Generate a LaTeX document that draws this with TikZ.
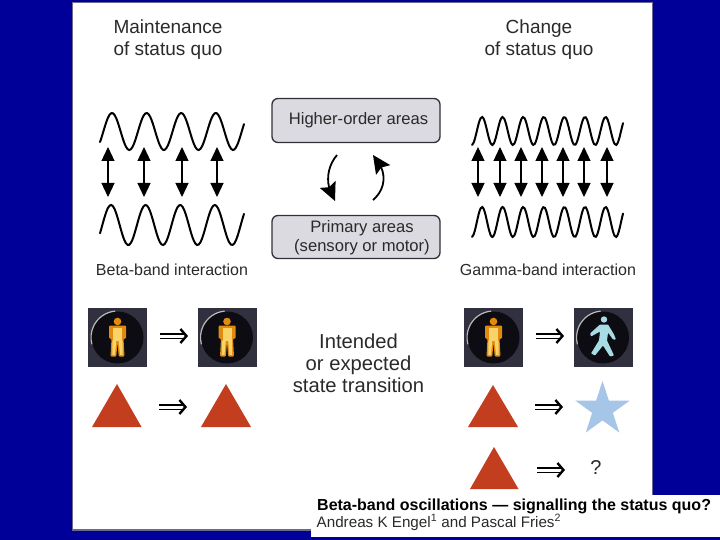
\documentclass[tikz,border=0pt]{standalone}
\usepackage{fontspec}
\setmainfont{Liberation Sans}
\usetikzlibrary{arrows.meta,shapes.geometric,bending}
\definecolor{slideblue}{HTML}{000099}
\definecolor{txtgrey}{HTML}{2A2A2A}
\definecolor{boxfill}{HTML}{DADAE0}
\definecolor{boxline}{HTML}{303038}
\definecolor{brick}{HTML}{C23E1E}
\definecolor{starblue}{HTML}{A6C6E8}
\definecolor{frameline}{HTML}{6A6A90}
\definecolor{lampsq}{HTML}{30303E}
\definecolor{lampdark}{HTML}{0C0C12}
\definecolor{manout}{HTML}{E08A12}
\definecolor{manin}{HTML}{F8D468}
\definecolor{walker}{HTML}{A8DCE4}
\tikzset{
  x=1pt,y=-1pt,
  lbl/.style={text=txtgrey,align=center,font=\fontsize{19}{22}\selectfont},
  midlbl/.style={text=txtgrey,align=center,font=\fontsize{20.2}{22}\selectfont},
  sublbl/.style={text=txtgrey,font=\fontsize{16}{19}\selectfont},
  boxlbl/.style={text=txtgrey,align=center,font=\fontsize{16.6}{19}\selectfont},
  areabox/.style={draw=boxline,line width=1.3pt,fill=boxfill,rounded corners=6pt,minimum width=168pt,inner sep=0pt},
  wavy/.style={line width=2pt,black,line cap=round,smooth},
  dbl/.style={{Triangle[length=14pt,width=13pt]}-{Triangle[length=14pt,width=13pt]},line width=1.2pt,black},
  turn/.style={-{Stealth[length=18pt,width=17pt,inset=3pt,flex]},line width=1.8pt,black},
  implies/.style={double,double distance=3pt,line width=1.9pt,black,-{Straight Barb[length=6pt,width=14pt,line width=2.4pt]}},
  tri/.style={fill=brick,draw=none},
  lamp/.style={fill=lampsq,draw=none,minimum size=59pt,inner sep=0pt},
}
\newcommand{\wavecurve}[6]{\draw[wavy] plot[domain=#1:#2,samples=90] (\x,{#3-#4*cos((\x-#6)/#5*360)});}
\newcommand{\lampface}[1]{%
  \fill[lampdark] (#1) circle (26pt);
  \draw[gray!55,line width=1.2pt] ([shift={(95:26.5pt)}]#1) arc[start angle=95,end angle=195,radius=26.5pt];
}
\newcommand{\redman}[1]{%
  \begin{scope}[shift={(#1)}]
  \fill[manout] (0,-16) circle (3.8pt);
  \fill[manout,rounded corners=1pt] (-8.5,-12) -- (8.5,-12) -- (8.5,1) -- (6,1) -- (7,19) -- (1.2,19) -- (0,5) -- (-1.2,19) -- (-7,19) -- (-6,1) -- (-8.5,1) -- cycle;
  \fill[manin] (-4.5,-9.5) rectangle (4.5,3);
  \fill[manin] (-5,3) -- (-1.2,3) -- (-2.5,17.5) -- (-5.2,17.5) -- cycle;
  \fill[manin] (5,3) -- (1.2,3) -- (2.5,17.5) -- (5.2,17.5) -- cycle;
  \end{scope}}
\newcommand{\blueman}[1]{%
  \begin{scope}[shift={(#1)}]
  \fill[walker] (1,-18) circle (3.2pt);
  \fill[walker,rounded corners=.8pt] (-3,-13) -- (5,-13) -- (11,-3) -- (13,2) -- (10,2) -- (5,-5) -- (4,3) -- (11,18) -- (7,19) -- (0,8) -- (-8,18) -- (-12,16) -- (-4,3) -- (-3,-6) -- (-12,-1) -- (-13,-4) -- cycle;
  \end{scope}}
\begin{document}
\begin{tikzpicture}
\useasboundingbox (0,0) rectangle (720,540);
\fill[slideblue] (0,0) rectangle (720,540);
\filldraw[fill=white,draw=frameline,line width=1.6pt] (72.5,2.5) rectangle (652.5,530);
\fill[white] (311,495) rectangle (720,537);

\node[lbl] (ttl) at (168,39.5) {Maintenance\\of status quo};
\node[lbl] (ttr) at (539,39.5) {Change\\of status quo};

\node[areabox,minimum height=44pt] (hi) at (356,120.5) {};
\node[boxlbl] (hit) at (358.5,120) {Higher-order areas};
\node[areabox,minimum height=43pt] (pr) at (356,237) {};
\node[boxlbl] (prt) at (362,238) {Primary areas\\(sensory or motor)};

\coordinate (la) at (337,155);
\coordinate (lb) at (335,201);
\coordinate (ra) at (373,200);
\coordinate (rb) at (373,155);
\draw[turn] (la) .. controls (326,168) and (325,186) .. (lb);
\draw[turn] (ra) .. controls (385,190) and (389,172) .. (rb);

\wavecurve{100}{244}{131.5}{18.5}{34.6}{112}
\wavecurve{100}{244}{225}{20}{34.6}{111}
\wavecurve{472}{623}{131}{14}{20.6}{482}
\wavecurve{472}{623}{222}{15}{20.6}{482}

\foreach \n/\p in {a/108,b/144,c/182,d/217,e/478,f/500,g/521,h/542,i/563,j/584,k/607}{
  \coordinate (u\n) at (\p,147);
  \coordinate (v\n) at (\p,197);
  \draw[dbl] (u\n) -- (v\n);
}

\node[sublbl] (bb) at (172,270) {Beta-band interaction};
\node[sublbl] (gb) at (548,270) {Gamma-band interaction};

\node[midlbl] (mid) at (358.5,363) {Intended\\or expected\\state transition};

\foreach \n/\cx/\cy in {l1/117.5/337.5,l2/227/337.5,r1/493.5/337.5,r2/603/337.5}{
  \node[lamp] (\n) at (\cx,\cy) {};
  \lampface{\n}
}
\redman{l1}\redman{l2}\redman{r1}\blueman{r2}

\fill[tri] (117,384) -- (141.5,427) -- (92,427) -- cycle;
\fill[tri] (226,384) -- (251,427) -- (201,427) -- cycle;
\fill[tri] (493,385) -- (518,427) -- (468,427) -- cycle;
\fill[tri] (494,447) -- (518.5,489) -- (470,489) -- cycle;
\node[star,star points=5,star point ratio=2.618,fill=starblue,draw=none,minimum size=57pt,inner sep=0pt] (st) at (602.5,409.5) {};
\node[text=txtgrey,font=\fontsize{20}{22}\selectfont] (qm) at (596,468) {?};

\foreach \n/\xa/\xb/\yy in {p/160/188/336,q/159/187/407,r/536/564/336,s/535/563/407,t/537/565/470}{
  \coordinate (\n a) at (\xa,\yy);
  \coordinate (\n b) at (\xb,\yy);
  \draw[implies] (\n a) -- (\n b);
}

\node[anchor=base west,inner sep=0pt,font=\bfseries\fontsize{16}{18}\selectfont] (art) at (317,510) {Beta-band oscillations — signalling the status quo?};
\node[anchor=base west,inner sep=0pt,text=txtgrey,font=\fontsize{15.2}{17}\selectfont] (aut) at (316.5,527) {Andreas K Engel\textsuperscript{1} and Pascal Fries\textsuperscript{2}};
\end{tikzpicture}
\end{document}
